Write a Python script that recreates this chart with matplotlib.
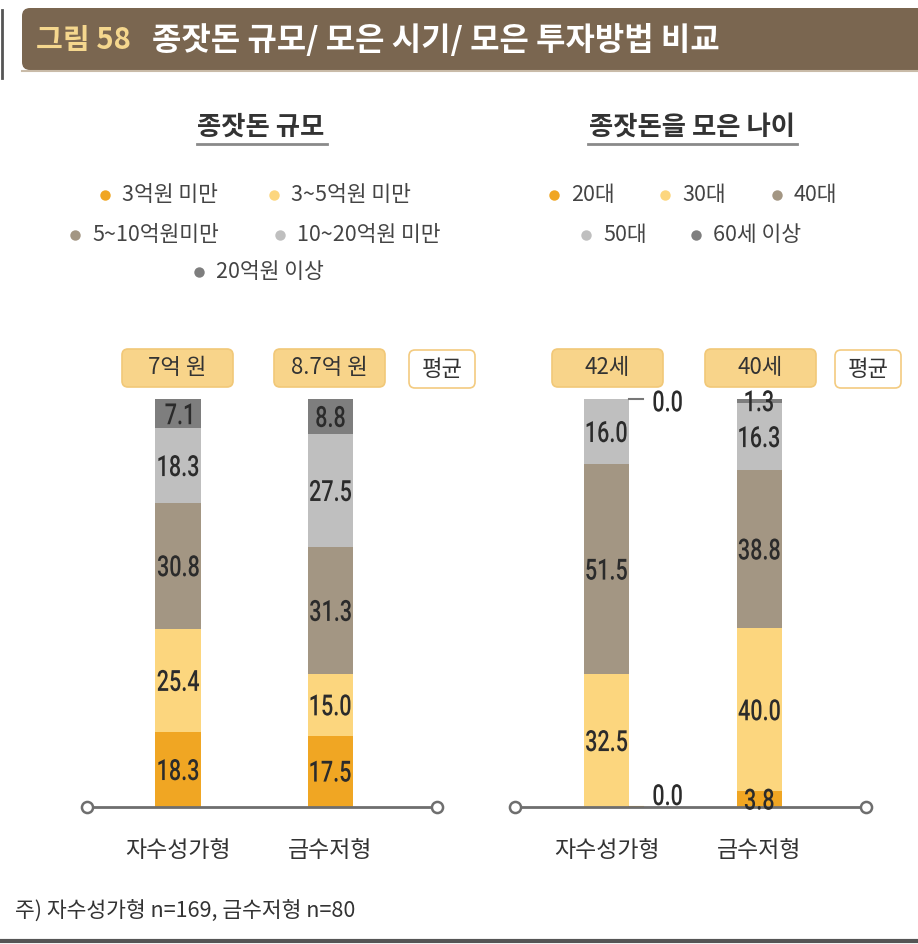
import matplotlib
matplotlib.use('Agg')
import matplotlib.pyplot as plt
from matplotlib.patches import FancyBboxPatch, PathPatch
from matplotlib.textpath import TextPath
from matplotlib.font_manager import FontProperties
from matplotlib.transforms import Affine2D, ScaledTranslation

plt.rcParams['font.family'] = ['Noto Sans CJK KR', 'DejaVu Sans']

# ---- data ----
groups = ['자수성가형', '금수저형']

size_cats = ['3억원 미만', '3~5억원 미만', '5~10억원미만', '10~20억원 미만', '20억원 이상']
size_self = [18.3, 25.4, 30.8, 18.3, 7.1]
size_gold = [17.5, 15.0, 31.3, 27.5, 8.8]
size_avg = ['7억 원', '8.7억 원']

age_cats = ['20대', '30대', '40대', '50대', '60세 이상']
age_self = [0.0, 32.5, 51.5, 16.0, 0.0]
age_gold = [3.8, 40.0, 38.8, 16.3, 1.3]
age_avg = ['42세', '40세']

colors = ['#F0A623', '#FCD67E', '#A39683', '#BFBFBF', '#7E7E7E']

TXT = '#333333'
NUM_FP = FontProperties(family=['Roboto', 'DejaVu Sans'], weight='medium')

W, H = 918, 944
DPI = 100
fig = plt.figure(figsize=(W / DPI, H / DPI), dpi=DPI)

# overlay in pixel coordinates for decorations
bg = fig.add_axes([0, 0, 1, 1])
bg.set_xlim(0, W)
bg.set_ylim(H, 0)
bg.axis('off')

# header bar
bg.add_patch(FancyBboxPatch((22, 8), 910, 62, boxstyle='round,pad=0,rounding_size=8',
                            fc='#7A6650', ec='none'))
bg.plot([22, W], [71, 71], color='#C9BBA8', lw=1.5)
bg.plot([1.5, 1.5], [10, 78], color='#555555', lw=2)
bg.text(36, 40, '그림 58', color='#F5D78E', fontsize=21, fontweight='bold', va='center')
bg.text(152, 40, '종잣돈 규모/ 모은 시기/ 모은 투자방법 비교', color='white',
        fontsize=23, fontweight='bold', va='center')

# section titles
for cx, title, x0, x1 in [(261, '종잣돈 규모', 197, 327), (692, '종잣돈을 모은 나이', 588, 797)]:
    bg.text(cx, 127, title, color=TXT, fontsize=19, fontweight='bold', ha='center', va='center')
    bg.plot([x0, x1], [144, 144], color='#8A8A8A', lw=2)

# legends
size_leg_pos = [(105, 195), (274, 195), (75, 235), (280, 235), (199, 272)]
age_leg_pos = [(554, 195), (665, 195), (777, 195), (586, 235), (696, 235)]
for cats, pos in [(size_cats, size_leg_pos), (age_cats, age_leg_pos)]:
    for i, (lab, (x, y)) in enumerate(zip(cats, pos)):
        bg.plot(x, y, 'o', ms=7.5, color=colors[i], mec='none')
        bg.text(x + 17, y, lab, color='#444444', fontsize=15.5, va='center')


def avg_box(x, y, w, h, text, fill, edge):
    bg.add_patch(FancyBboxPatch((x + 6, y + 6), w - 12, h - 12,
                                boxstyle='round,pad=6', fc=fill, ec=edge, lw=1.2))
    bg.text(x + w / 2, y + h / 2, text, color=TXT, fontsize=16, ha='center', va='center')


avg_box(122, 349, 111, 38, size_avg[0], '#F8D48A', '#F1C878')
avg_box(274, 349, 111, 38, size_avg[1], '#F8D48A', '#F1C878')
avg_box(409, 350, 66, 38, '평균', 'white', '#F3CB80')
avg_box(552, 349, 111, 38, age_avg[0], '#F8D48A', '#F1C878')
avg_box(705, 349, 111, 38, age_avg[1], '#F8D48A', '#F1C878')
avg_box(835, 350, 66, 38, '평균', 'white', '#F3CB80')

bg.text(15, 912, '주) 자수성가형 n=169, 금수저형 n=80', color=TXT, fontsize=15.5, va='center')
bg.plot([0, W], [941, 941], color='#555555', lw=3)


def num_label(ax, x, y, s, size=21, squeeze=0.74):
    # condensed number label, centred on a data point
    tp = TextPath((0, 0), s, size=size, prop=NUM_FP)
    bb = tp.get_extents()
    tr = (Affine2D().translate(-(bb.x0 + bb.x1) / 2, -(bb.y0 + bb.y1) / 2)
          .scale(squeeze * DPI / 72, DPI / 72)
          + ScaledTranslation(x, y, ax.transData))
    ax.add_patch(PathPatch(tp, transform=tr, fc='#2B2B2B', ec='none', clip_on=False, zorder=7))


# chart axes: baseline at y=807 px, 100% at y=399 px
base_y = 807
full_h = 408


def make_axes(x_left, x_right):
    ax = fig.add_axes([x_left / W, 1 - base_y / H, (x_right - x_left) / W, full_h / H])
    ax.set_xlim(-0.6, 1.7)
    ax.set_ylim(0, 100)
    ax.patch.set_alpha(0)
    for s in ax.spines.values():
        s.set_visible(False)
    ax.set_yticks([])
    ax.set_xticks([0, 1])
    ax.set_xticklabels(groups, fontsize=16.5, color=TXT)
    ax.tick_params(axis='x', length=0, pad=23)
    ax.plot([-0.6, 1.7], [0, 0], color='#6E6E6E', lw=2, clip_on=False, zorder=5)
    ax.plot([-0.6, 1.7], [0, 0], 'o', ms=8, mfc='white', mec='#6E6E6E', mew=1.8,
            clip_on=False, zorder=6)
    return ax


def stacked(ax, series, width):
    for xi, vals in enumerate(series):
        bottom = 0
        for i, v in enumerate(vals):
            ax.bar(xi, v, width, bottom=bottom, color=colors[i], zorder=3)
            if v > 0:
                num_label(ax, xi, bottom + v / 2, f'{v:.1f}')
            else:
                lc = '#777777' if bottom > 50 else colors[i]
                ax.plot([xi + width / 2, xi + width / 2 + 0.09], [bottom, bottom],
                        color=lc, lw=1.5, clip_on=False, zorder=4)
                num_label(ax, xi + 0.40, bottom + (-0.5 if bottom > 50 else 3.0), f'{v:.1f}')
            bottom += v


ax1 = make_axes(87, 437)
stacked(ax1, [size_self, size_gold], 0.30)

ax2 = make_axes(515, 866)
stacked(ax2, [age_self, age_gold], 0.295)

fig.savefig('out.png', dpi=DPI)
